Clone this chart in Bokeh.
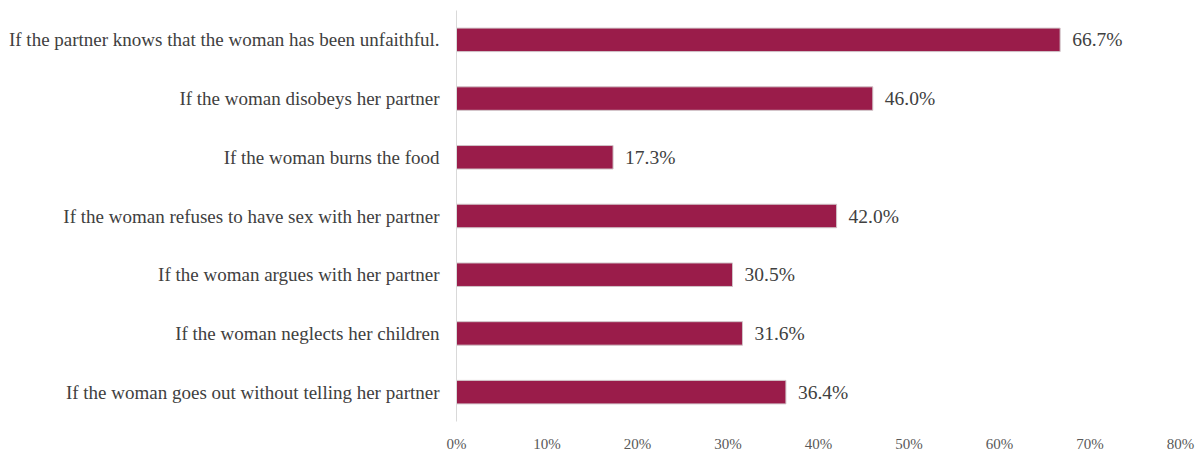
from bokeh.plotting import figure
from bokeh.models import ColumnDataSource, FactorRange, Range1d, FixedTicker, CustomJSTickFormatter
from bokeh.core.properties import value
from bokeh.embed import file_html
from bokeh.resources import INLINE

categories = [
    "If the partner knows that the woman has been unfaithful.",
    "If the woman disobeys her partner",
    "If the woman burns the food",
    "If the woman refuses to have sex with her partner",
    "If the woman argues with her partner",
    "If the woman neglects her children",
    "If the woman goes out without telling her partner",
]
values = [66.7, 46.0, 17.3, 42.0, 30.5, 31.6, 36.4]
labels = [f"{v:.1f}%" for v in values]
x_ticks = [0, 10, 20, 30, 40, 50, 60, 70, 80]

FONT = "Liberation Serif"
BAR = "#9A1C4A"
TXT = "#404040"

src = ColumnDataSource(dict(cat=categories, val=values, lab=labels))

p = figure(
    width=1197, height=454,
    y_range=FactorRange(*list(reversed(categories))),
    x_range=Range1d(0, 80),
    output_backend="svg", toolbar_location=None,
    min_border_left=456, min_border_right=17, min_border_top=10, min_border_bottom=29,
)
p.hbar(y="cat", right="val", left=0, height=0.4, source=src,
       fill_color=BAR, line_color="#d0c4c8", line_width=1)
p.text(x="val", y="cat", text="lab", source=src, x_offset=12,
       text_align="left", text_baseline="middle",
       text_font=value(FONT), text_font_size="19.5px", text_color=TXT)

p.xgrid.visible = False
p.ygrid.visible = False
p.outline_line_color = None

p.xaxis.ticker = FixedTicker(ticks=x_ticks)
p.xaxis.formatter = CustomJSTickFormatter(code="return tick + '%';")
p.xaxis.axis_line_color = None
p.xaxis.major_tick_line_color = None
p.xaxis.minor_tick_line_color = None
p.xaxis.major_label_text_font = FONT
p.xaxis.major_label_text_font_size = "15px"
p.xaxis.major_label_text_color = "#595959"
p.xaxis.major_label_standoff = 8

p.yaxis.axis_line_color = "#d9d9d9"
p.yaxis.major_tick_line_color = None
p.yaxis.minor_tick_line_color = None
p.yaxis.major_label_text_font = FONT
p.yaxis.major_label_text_font_size = "19px"
p.yaxis.major_label_text_color = TXT
p.yaxis.major_label_standoff = 11

open("out.html", "w").write(file_html(p, INLINE))
